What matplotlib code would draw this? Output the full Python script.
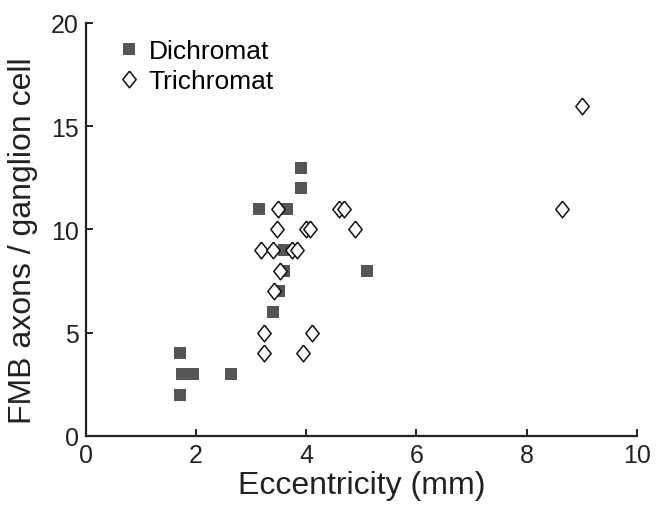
import matplotlib
matplotlib.use("Agg")
import matplotlib.pyplot as plt

plt.rcParams['font.family'] = ['Liberation Sans', 'DejaVu Sans']

# dichromat points (eccentricity mm, axons per ganglion cell)
di_x = [3.9, 3.9, 3.15, 3.65, 3.6, 3.6, 3.5, 3.4, 5.1, 1.7, 1.75, 1.95, 2.63, 1.7]
di_y = [13, 12, 11, 11, 9, 8, 7, 6, 8, 4, 3, 3, 3, 2]

# trichromat points
tri_x = [3.48, 4.59, 4.68, 3.47, 3.99, 4.06, 4.89, 3.18, 3.39, 3.74, 3.84,
         3.52, 3.41, 3.24, 4.10, 3.24, 3.94, 9.0, 8.64]
tri_y = [11, 11, 11, 10, 10, 10, 10, 9, 9, 9, 9,
         8, 7, 5, 5, 4, 4, 16, 11]

xticks = [0, 2, 4, 6, 8, 10]
yticks = [0, 5, 10, 15, 20]

diamond = [(0, 1), (0.8, 0), (0, -1), (-0.8, 0), (0, 1)]

fig = plt.figure(figsize=(6.58, 5.06), dpi=100)
ax = fig.add_axes([0.1307, 0.1364, 0.837, 0.8162])

ax.plot(di_x, di_y, linestyle='none', marker='s', markersize=8.5,
        color='#555555', markeredgewidth=0, label='Dichromat')
ax.plot(tri_x, tri_y, linestyle='none', marker=diamond, markersize=12,
        markerfacecolor='white', markeredgecolor='#111111',
        markeredgewidth=1.1, label='Trichromat')

ax.set_xlim(0, 10)
ax.set_ylim(0, 20)
ax.set_xticks(xticks)
ax.set_yticks(yticks)
ax.spines['top'].set_visible(False)
ax.spines['right'].set_visible(False)
for s in ['left', 'bottom']:
    ax.spines[s].set_linewidth(1.6)
    ax.spines[s].set_color('#222222')
ax.tick_params(direction='in', length=5, width=1.4, labelsize=18,
               colors='#222222', pad=5)

ax.set_xlabel('Eccentricity (mm)', fontsize=23, color='#222222', labelpad=2)
ax.set_ylabel('FMB axons / ganglion cell', fontsize=23, color='#222222')
ax.yaxis.set_label_coords(-0.088, 0.475)

ax.legend(loc='upper left', frameon=False, fontsize=19, handletextpad=0.25,
          handlelength=1.0, borderaxespad=0.2, labelspacing=0.25,
          bbox_to_anchor=(0.025, 1.0))

fig.savefig('out.png', dpi=100)
